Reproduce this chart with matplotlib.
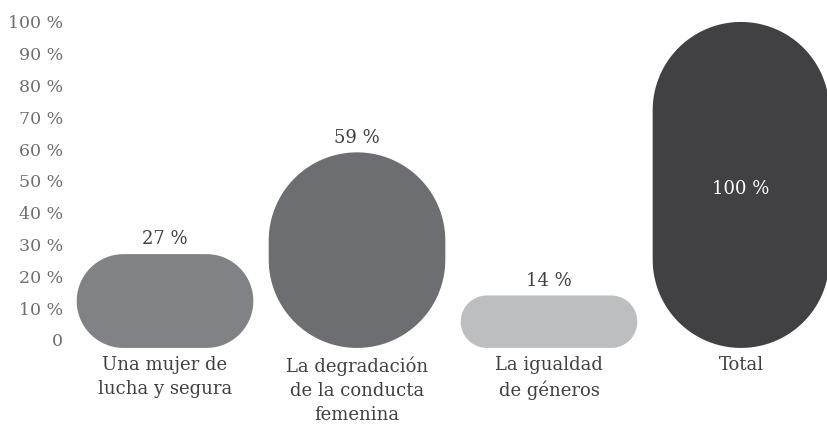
import numpy as np
import matplotlib
matplotlib.use('Agg')
import matplotlib.pyplot as plt
from matplotlib.patches import Polygon

categories = ['Una mujer de\nlucha y segura',
              'La degradación\nde la conducta\nfemenina',
              'La igualdad\nde géneros',
              'Total']
values = [27, 59, 14, 100]
yticks = list(range(0, 101, 10))
ytick_labels = ['0'] + ['%d %%' % v for v in yticks[1:]]

colors = ['#808285', '#6d6e71', '#bcbec0', '#414042']
text_col = '#404041'
tick_col = '#6d6e71'

plt.rcParams['font.family'] = ['DejaVu Serif']

W, H = 827, 424
fig = plt.figure(figsize=(W / 100, H / 100), dpi=100)
# axes box in pixels
left, right, bottom, top = 70, 827, 355, 0
ax = fig.add_axes([left / W, 1 - bottom / H, (right - left) / W, (bottom - top) / H])
ax.set_xlim(-0.495, 3.448)
ax.set_ylim(-4.72, 106.9)

sx = (right - left) / (3.448 + 0.495)     # px per x unit
sy = (bottom - top) / (106.9 + 4.72)      # px per y unit

def pill(xc, y0, y1, w, color):
    # bar with fully rounded ends, built in pixel space then mapped back
    w_px = w * sx
    h_px = (y1 - y0) * sy
    r = min(w_px, h_px) / 2
    dx = w_px / 2 - r
    pts = []
    arcs = [((dx, r), -90, 0), ((dx, h_px - r), 0, 90),
            ((-dx, h_px - r), 90, 180), ((-dx, r), 180, 270)]
    for (cx, cy), a0, a1 in arcs:
        t = np.radians(np.linspace(a0, a1, 40))
        pts += list(zip(cx + r * np.cos(t), cy + r * np.sin(t)))
    pts = np.array(pts)
    xy = np.column_stack([xc + pts[:, 0] / sx, y0 + pts[:, 1] / sy])
    ax.add_patch(Polygon(xy, closed=True, facecolor=color, edgecolor='none'))

base = -2.5
width = 0.92
fs = 13
for i, v in enumerate(values):
    pill(i, base, v, width, colors[i])
    if v < 100:
        ax.annotate('%d %%' % v, (i, v), xytext=(0, 7), textcoords='offset points',
                    ha='center', va='baseline', fontsize=fs, color=text_col)
    else:
        ax.text(i, (base + v) / 2 - 1.3, '%d %%' % v, ha='center', va='center',
                fontsize=fs, color='white')

ax.set_yticks(yticks)
ax.set_yticklabels(ytick_labels, fontsize=12.5, color=tick_col)
ax.set_xticks(range(len(categories)))
ax.set_xticklabels(categories, fontsize=fs, color=text_col, linespacing=1.42)
ax.tick_params(axis='both', length=0)
ax.tick_params(axis='y', pad=5)
ax.tick_params(axis='x', pad=1)
for s in ax.spines.values():
    s.set_visible(False)

fig.savefig('out.png', dpi=100)
